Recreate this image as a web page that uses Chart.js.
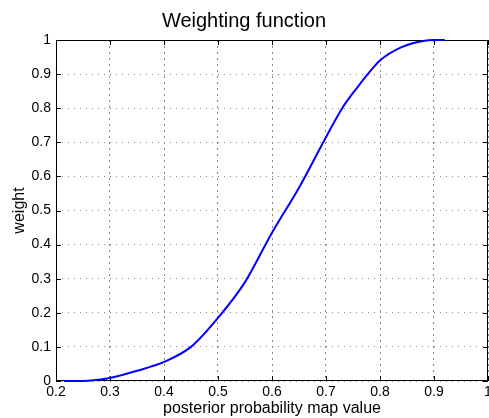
<!DOCTYPE html>
<html>
<head>
<meta charset="utf-8">
<script src="https://cdn.jsdelivr.net/npm/chart.js@4.4.0/dist/chart.umd.min.js"></script>
<style>
html,body{margin:0;padding:0;background:#fff;}
#wrap{width:489px;height:418px;}
</style>
</head>
<body>
<div id="wrap"><canvas id="c" width="489" height="418"></canvas></div>
<script>
const xValues = [0.215, 0.25, 0.27, 0.3, 0.35, 0.4, 0.45, 0.5, 0.55, 0.6, 0.65, 0.7, 0.73, 0.76, 0.78, 0.8, 0.84, 0.88, 0.9, 0.92];
const weights = [0, 0, 0.002, 0.009, 0.03, 0.056, 0.10, 0.185, 0.29, 0.435, 0.567, 0.715, 0.80, 0.865, 0.905, 0.94, 0.979, 0.997, 1.0, 1.0];
const xTicks = [0.2, 0.3, 0.4, 0.5, 0.6, 0.7, 0.8, 0.9, 1];
const yTicks = [0, 0.1, 0.2, 0.3, 0.4, 0.5, 0.6, 0.7, 0.8, 0.9, 1];

const points = xValues.map((x, i) => ({x: x, y: weights[i]}));
const FONT = 'Liberation Sans, Arial, Helvetica, sans-serif';

const boxPlugin = {
  id: 'box',
  beforeDatasetsDraw(chart) {
    const {ctx, chartArea: a, scales} = chart;
    ctx.save();
    ctx.strokeStyle = '#000';
    ctx.lineWidth = 1;
    ctx.beginPath();
    ctx.rect(a.left + 0.5, a.top + 0.5, a.right - a.left - 1, a.bottom - a.top - 1);
    ctx.stroke();
    const L = 5;
    ctx.beginPath();
    scales.x.ticks.forEach((t, i) => {
      const px = Math.round(scales.x.getPixelForTick(i)) + 0.5;
      ctx.moveTo(px, a.bottom); ctx.lineTo(px, a.bottom - L);
      ctx.moveTo(px, a.top); ctx.lineTo(px, a.top + L);
    });
    scales.y.ticks.forEach((t, i) => {
      const py = Math.round(scales.y.getPixelForTick(i)) + 0.5;
      ctx.moveTo(a.left, py); ctx.lineTo(a.left + L, py);
      ctx.moveTo(a.right, py); ctx.lineTo(a.right - L, py);
    });
    ctx.stroke();
    ctx.restore();
  }
};

new Chart(document.getElementById('c'), {
  type: 'scatter',
  data: {
    datasets: [{
      data: points,
      showLine: true,
      borderColor: '#0000ff',
      borderWidth: 2,
      pointRadius: 0,
      cubicInterpolationMode: 'monotone',
      clip: 4,
      fill: false
    }]
  },
  options: {
    responsive: false,
    animation: false,
    layout: {padding: {left: 0, right: 1, top: 0, bottom: 0}},
    plugins: {
      legend: {display: false},
      tooltip: {enabled: false},
      title: {
        display: true,
        text: 'Weighting function',
        color: '#000',
        font: {family: FONT, size: 20, weight: 'normal'},
        padding: {top: 9, bottom: 7}
      }
    },
    scales: {
      x: {
        type: 'linear',
        min: 0.2, max: 1,
        afterBuildTicks(s) { s.ticks = xTicks.map(v => ({value: v})); },
        afterFit(s) { s.height = 37; s.paddingLeft = 0; s.paddingRight = 0; },
        ticks: {
          color: '#000',
          font: {family: FONT, size: 14},
          padding: 3,
          maxRotation: 0,
          callback: v => String(v)
        },
        grid: {
          color: '#888',
          lineWidth: 1,
          drawTicks: false
        },
        border: {display: false, dash: [2, 4]},
        title: {
          display: true,
          text: 'posterior probability map value',
          color: '#000',
          font: {family: FONT, size: 16},
          padding: {top: 0, bottom: 0}
        }
      },
      y: {
        type: 'linear',
        min: 0, max: 1,
        afterBuildTicks(s) { s.ticks = yTicks.map(v => ({value: v})); },
        afterFit(s) { s.width = 56; s.paddingTop = 0; s.paddingBottom = 0; },
        ticks: {
          color: '#000',
          font: {family: FONT, size: 14},
          padding: 5,
          callback: v => String(v)
        },
        grid: {
          color: '#888',
          lineWidth: 1,
          drawTicks: false
        },
        border: {display: false, dash: [1, 5]},
        title: {
          display: true,
          text: 'weight',
          color: '#000',
          font: {family: FONT, size: 16},
          padding: {top: 10, bottom: 0}
        }
      }
    }
  },
  plugins: [boxPlugin]
});
</script>
</body>
</html>
